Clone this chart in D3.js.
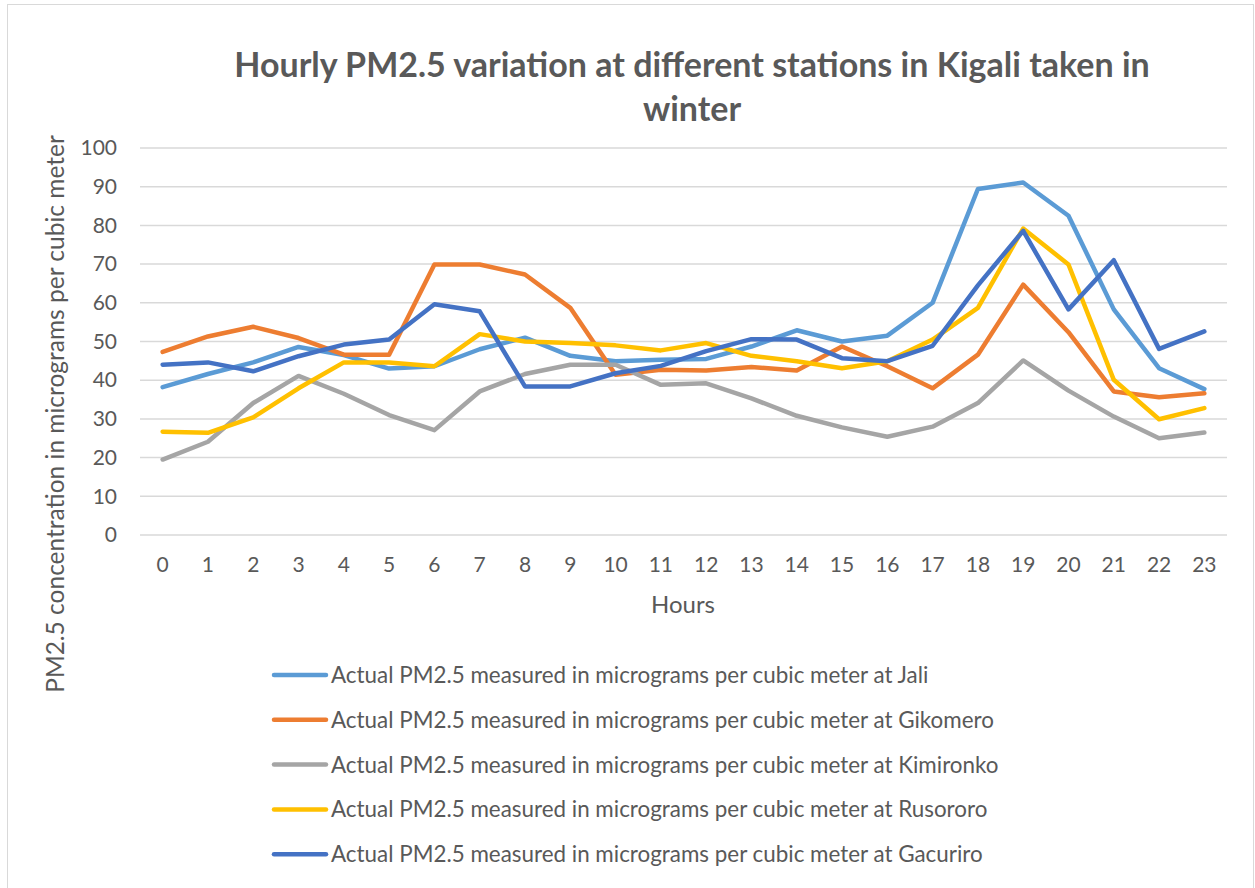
<!DOCTYPE html>
<html lang="en">
<head>
    <meta charset="UTF-8">
    <title>Hourly PM2.5 variation in Kigali</title>
    <script src="https://d3js.org/d3.v7.min.js"></script>
    <style>
        body { margin: 0; background: #fff; }
        text { font-family: Lato, "Open Sans", sans-serif; fill: #595959; }
        .grid line { stroke: #d9d9d9; stroke-width: 1.5px; }
        .series { fill: none; stroke-width: 4.5px; stroke-linejoin: round; stroke-linecap: round; }
    </style>
</head>
<body>
    <svg width="1255" height="888"></svg>

    <script>
        const hours = d3.range(0, 24);
        const yTicks = [0, 10, 20, 30, 40, 50, 60, 70, 80, 90, 100];

        const stations = ["Jali", "Gikomero", "Kimironko", "Rusororo", "Gacuriro"];
        const colors = ["#5b9bd5", "#ed7d31", "#a5a5a5", "#ffc000", "#4472c4"];

        const jali      = [38.2, 41.6, 44.6, 48.6, 46.5, 43.0, 43.6, 48.0, 51.0, 46.3, 44.9, 45.3, 45.5, 48.7, 52.9, 50.0, 51.5, 60.0, 89.4, 91.1, 82.5, 58.3, 43.1, 37.7];
        const gikomero  = [47.3, 51.3, 53.8, 50.9, 46.6, 46.6, 69.9, 69.9, 67.3, 58.7, 41.4, 42.7, 42.5, 43.4, 42.5, 48.7, 43.6, 37.9, 46.6, 64.7, 52.4, 37.1, 35.6, 36.6];
        const kimironko = [19.5, 24.1, 34.1, 41.1, 36.5, 31.0, 27.1, 37.1, 41.6, 44.0, 44.0, 38.8, 39.2, 35.3, 30.8, 27.8, 25.4, 28.0, 34.1, 45.1, 37.3, 30.6, 25.0, 26.5];
        const rusororo  = [26.7, 26.4, 30.4, 37.9, 44.6, 44.6, 43.6, 51.9, 50.0, 49.6, 49.0, 47.7, 49.6, 46.3, 44.9, 43.1, 44.9, 50.5, 58.7, 79.2, 69.9, 40.1, 29.9, 32.8];
        const gacuriro  = [44.0, 44.6, 42.3, 46.2, 49.2, 50.5, 59.6, 57.8, 38.4, 38.4, 41.8, 43.7, 47.5, 50.6, 50.5, 45.7, 44.9, 48.9, 64.5, 78.6, 58.3, 71.0, 48.1, 52.6];
        const seriesValues = [jali, gikomero, kimironko, rusororo, gacuriro];

        const svg = d3.select("svg");

        // chart frame
        svg.append("rect")
            .attr("x", 7.5).attr("y", 4.5)
            .attr("width", 1246).attr("height", 900)
            .attr("fill", "none").attr("stroke", "#d9d9d9");

        const plotLeft = 140, plotRight = 1227, plotTop = 148, plotBottom = 535;
        const x = d3.scaleBand().domain(hours).range([plotLeft, plotRight]);
        const y = d3.scaleLinear().domain([0, 100]).range([plotBottom, plotTop]);
        const cx = h => x(h) + x.bandwidth() / 2;

        // gridlines
        svg.append("g").attr("class", "grid")
            .selectAll("line")
            .data(yTicks)
            .enter()
            .append("line")
            .attr("x1", plotLeft).attr("x2", plotRight)
            .attr("y1", d => y(d)).attr("y2", d => y(d));

        // y axis labels
        const yAxis = svg.append("g")
            .attr("transform", `translate(${plotLeft - 10},0)`)
            .call(d3.axisLeft(y).tickValues(yTicks).tickSize(0).tickPadding(13));
        yAxis.select(".domain").remove();
        yAxis.selectAll("text").attr("font-size", 21).attr("fill", "#595959")
            .style("font-family", "Lato, 'Open Sans', sans-serif");

        // x axis labels
        const xAxis = svg.append("g")
            .attr("transform", `translate(0,${plotBottom})`)
            .call(d3.axisBottom(x).tickSize(0).tickPadding(22));
        xAxis.select(".domain").remove();
        xAxis.selectAll("text").attr("font-size", 21).attr("fill", "#595959")
            .style("font-family", "Lato, 'Open Sans', sans-serif");

        // lines
        const line = d3.line()
            .x((d, i) => cx(hours[i]))
            .y(d => y(d));

        svg.selectAll(".series")
            .data(seriesValues)
            .enter()
            .append("path")
            .attr("class", "series")
            .attr("stroke", (d, i) => colors[i])
            .attr("d", line);

        // title
        const title = svg.append("text")
            .attr("text-anchor", "middle")
            .attr("font-size", 34)
            .attr("font-weight", "bold");
        title.append("tspan").attr("x", 692).attr("y", 77)
            .text("Hourly PM2.5 variation at different stations in Kigali taken in");
        title.append("tspan").attr("x", 692).attr("y", 121).text("winter");

        // axis titles
        svg.append("text")
            .attr("x", 683).attr("y", 613)
            .attr("text-anchor", "middle")
            .attr("font-size", 24)
            .text("Hours");

        svg.append("text")
            .attr("transform", "translate(64,414) rotate(-90)")
            .attr("text-anchor", "middle")
            .attr("font-size", 24.5)
            .text("PM2.5 concentration in micrograms per cubic meter");

        // legend
        const legend = svg.selectAll(".legend")
            .data(stations)
            .enter()
            .append("g")
            .attr("class", "legend")
            .attr("transform", (d, i) => `translate(272,${675 + i * 44.8})`);

        legend.append("line")
            .attr("x1", 2).attr("x2", 54)
            .attr("stroke", (d, i) => colors[i])
            .attr("stroke-width", 4.5)
            .attr("stroke-linecap", "round");

        legend.append("text")
            .attr("x", 59).attr("dy", 8)
            .attr("font-size", 22.4)
            .text(d => "Actual PM2.5 measured in micrograms per cubic meter at " + d);
    </script>
</body>
</html>
